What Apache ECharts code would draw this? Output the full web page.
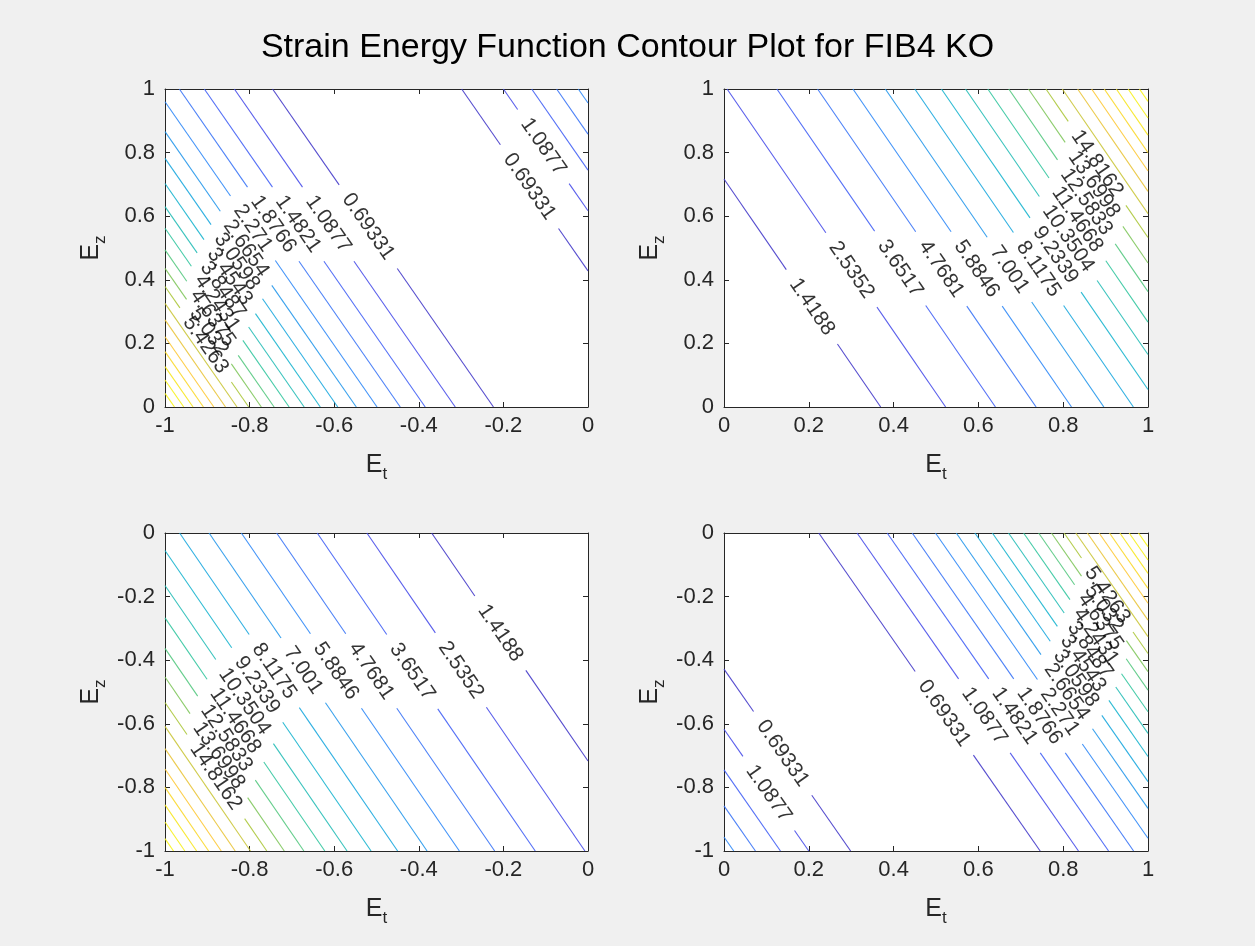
<!DOCTYPE html>
<html><head><meta charset="utf-8">
<script src="https://cdn.jsdelivr.net/npm/echarts@6/dist/echarts.min.js"></script>
<style>html,body{margin:0;padding:0;background:#f0f0f0}#c{width:1255px;height:946px}</style>
</head><body><div id="c"></div>
<script>
// ---------------- DATA ----------------
const titleText = 'Strain Energy Function Contour Plot for FIB4 KO';
const ticksNeg = ['-1', '-0.8', '-0.6', '-0.4', '-0.2', '0'];
const ticksPos = ['0', '0.2', '0.4', '0.6', '0.8', '1'];

// contour levels (plots 1 & 4)
const levelsA = [0.69331, 1.0877, 1.4821, 1.8766, 2.271, 2.6654, 3.0598, 3.4543, 3.8487, 4.2431,
                 4.6375, 5.032, 5.4263, 5.8208, 6.2152, 6.6096, 7.004, 7.3985, 7.7929, 8.1873];
const labelsA = ['0.69331', '1.0877', '1.4821', '1.8766', '2.271', '2.6654', '3.0598', '3.4543',
                 '3.8487', '4.2431', '4.6375', '5.032', '5.4263'];
const climA = [0.2989, 8.5816];
// contour levels (plots 2 & 3)
const levelsB = [1.4188, 2.5352, 3.6517, 4.7681, 5.8846, 7.001, 8.1175, 9.2339, 10.3504, 11.4668,
                 12.5833, 13.6998, 14.8162, 15.9327, 17.0491, 18.1656, 19.282, 20.3985, 21.5149, 22.6314];
const labelsB = ['1.4188', '2.5352', '3.6517', '4.7681', '5.8846', '7.001', '8.1175', '9.2339',
                 '10.3504', '11.4668', '12.5833', '13.6998', '14.8162'];
const climB = [0.3024, 23.748];

// contour lines are Ez = u - s*Et ; u = Ez-intercept
const slope1 = 1.915, slope2 = 1.94, slope3 = 1.94, slope4 = 1.915;
const u1Main = [-0.428, -0.601, -0.737, -0.850, -0.955, -1.049, -1.133, -1.212, -1.285, -1.353,
                -1.421, -1.479, -1.536, -1.589, -1.641, -1.694, -1.741, -1.788, -1.830, -1.872];
const u1Side = [0.428, 0.617, 0.745, 0.858, 0.956];
const u2Main = [0.717, 1.014, 1.242, 1.428, 1.590, 1.738, 1.873, 1.995, 2.105, 2.207,
                2.303, 2.393, 2.473, 2.548, 2.618, 2.682, 2.740, 2.795, 2.849, 2.901];
const u3Main = [-0.717, -1.014, -1.242, -1.428, -1.590, -1.738, -1.873, -1.995, -2.105, -2.207,
                -2.303, -2.393, -2.473, -2.548, -2.618, -2.682, -2.740, -2.795, -2.849, -2.901];
const u4Main = [0.428, 0.601, 0.737, 0.850, 0.955, 1.049, 1.133, 1.212, 1.285, 1.353,
                1.421, 1.479, 1.536, 1.589, 1.641, 1.694, 1.741, 1.788, 1.830, 1.872];
const u4Side = [-0.428, -0.617, -0.745, -0.858, -0.956];

// Ez position of each inline label centre
const lab1Main = [0.567, 0.575, 0.575, 0.575, 0.562, 0.499, 0.457, 0.41, 0.368, 0.326, 0.279, 0.237, 0.195];
const lab1Side = [0.693, 0.819];
const lab2Main = [0.315, 0.431, 0.436, 0.434, 0.434, 0.432, 0.434, 0.478, 0.53, 0.59, 0.645, 0.70, 0.766];
const lab3Main = [-0.315, -0.431, -0.436, -0.434, -0.434, -0.432, -0.434, -0.478, -0.53, -0.59, -0.645, -0.70, -0.766];
const lab4Main = [-0.567, -0.575, -0.575, -0.575, -0.562, -0.499, -0.457, -0.41, -0.368, -0.326, -0.279, -0.237, -0.195];
const lab4Side = [-0.693, -0.819];

// ---------------- STYLE / LAYOUT ----------------
const FONT = '"Liberation Sans", Helvetica, Arial, sans-serif';
const AX = '#262626';
const LABEL_SIZE = 21, TICK_SIZE = 22, GAP_PAD = 13;
const parulaPos = [0, 0.111, 0.238, 0.365, 0.492, 0.619, 0.746, 0.873, 1];
const parulaStops = ['#3e26a8', '#4852f4', '#2e87f7', '#12b1d6', '#37c897', '#abc739', '#fec338', '#f5eb18', '#f9fb14'];
function hex(c) { return [1, 3, 5].map(i => parseInt(c.substr(i, 2), 16)); }
function parula(t) {
  t = Math.max(0, Math.min(1, t));
  let i = 0;
  while (i < parulaPos.length - 2 && t > parulaPos[i + 1]) i++;
  const r = (t - parulaPos[i]) / (parulaPos[i + 1] - parulaPos[i]);
  const a = hex(parulaStops[i]), b = hex(parulaStops[i + 1]);
  return 'rgb(' + a.map((v, j) => Math.round(v + (b[j] - v) * r)).join(',') + ')';
}
const grids = [
  { left: 165, top: 89, width: 423, height: 318 },
  { left: 724, top: 89, width: 424, height: 318 },
  { left: 165, top: 533, width: 423, height: 318 },
  { left: 724, top: 533, width: 424, height: 318 }
];
const plots = [
  { x: [-1, 0], y: [0, 1], xt: ticksNeg, yt: ticksPos, s: slope1, levels: levelsA, labels: labelsA, clim: climA, main: u1Main, side: u1Side, labMain: lab1Main, labSide: lab1Side },
  { x: [0, 1], y: [0, 1], xt: ticksPos, yt: ticksPos, s: slope2, levels: levelsB, labels: labelsB, clim: climB, main: u2Main, side: [], labMain: lab2Main, labSide: [] },
  { x: [-1, 0], y: [-1, 0], xt: ticksNeg, yt: ticksNeg, s: slope3, levels: levelsB, labels: labelsB, clim: climB, main: u3Main, side: [], labMain: lab3Main, labSide: [] },
  { x: [0, 1], y: [-1, 0], xt: ticksPos, yt: ticksNeg, s: slope4, levels: levelsA, labels: labelsA, clim: climA, main: u4Main, side: u4Side, labMain: lab4Main, labSide: lab4Side }
];

const meas = document.createElement('canvas').getContext('2d');
function textW(t) { meas.font = LABEL_SIZE + 'px ' + FONT; return meas.measureText(t).width; }

const xAxes = [], yAxes = [], series = [];
const nameRich = {
  E: { fontSize: 25, fontFamily: FONT, color: AX, lineHeight: 36, verticalAlign: 'middle' },
  s: { fontSize: 17, fontFamily: FONT, color: AX, lineHeight: 18, verticalAlign: 'bottom' }
};
plots.forEach((P, i) => {
  const g = grids[i];
  const common = { gridIndex: i, type: 'value', interval: 0.2, splitLine: { show: false },
    axisLine: { show: true, onZero: false, lineStyle: { color: AX, width: 1 } },
    axisTick: { show: true, inside: true, length: 5, lineStyle: { color: AX } } };
  const fmt = (arr, min) => v => arr[Math.round((v - min) / 0.2)];
  xAxes.push(Object.assign({}, common, { min: P.x[0], max: P.x[1], position: 'bottom',
    axisLabel: { fontSize: TICK_SIZE, fontFamily: FONT, color: AX, margin: 8, formatter: fmt(P.xt, P.x[0]) },
    name: '{E|E}{s|t}', nameLocation: 'middle', nameGap: 40, nameTextStyle: { rich: nameRich } }));
  xAxes.push(Object.assign({}, common, { min: P.x[0], max: P.x[1], position: 'top', axisLabel: { show: false } }));
  yAxes.push(Object.assign({}, common, { min: P.y[0], max: P.y[1], position: 'left',
    axisLabel: { fontSize: TICK_SIZE, fontFamily: FONT, color: AX, margin: 10, formatter: fmt(P.yt, P.y[0]) },
    name: '{E|E}{s|z}', nameLocation: 'middle', nameGap: 56, nameRotate: 90, nameTextStyle: { rich: nameRich } }));
  yAxes.push(Object.assign({}, common, { min: P.y[0], max: P.y[1], position: 'right', axisLabel: { show: false } }));

  const pxX = g.width / (P.x[1] - P.x[0]), pxY = g.height / (P.y[1] - P.y[0]);
  const L = Math.hypot(pxX, P.s * pxY);
  const angle = Math.atan2(P.s * pxY, pxX) * 180 / Math.PI;
  const segs = [], labs = [];
  function addLine(u, k, labEz) {
    const a = Math.max(P.x[0], (u - P.y[1]) / P.s);
    const b = Math.min(P.x[1], (u - P.y[0]) / P.s);
    if (a >= b) return;
    const color = parula((P.levels[k] - P.clim[0]) / (P.clim[1] - P.clim[0]));
    let cuts = [[a, b]];
    if (labEz != null) {
      const ec = (u - labEz) / P.s;
      const half = (textW(P.labels[k]) / 2 + GAP_PAD) / L;
      cuts = [[a, Math.min(b, ec - half)], [Math.max(a, ec + half), b]];
      labs.push([ec, labEz, P.labels[k]]);
    }
    cuts.forEach(([e1, e2]) => {
      if (e2 > e1) segs.push({ coords: [[e1, u - P.s * e1], [e2, u - P.s * e2]], lineStyle: { color } });
    });
  }
  P.main.forEach((u, k) => addLine(u, k, P.labMain[k]));
  P.side.forEach((u, k) => addLine(u, k, P.labSide[k]));
  series.push({ type: 'lines', coordinateSystem: 'cartesian2d', xAxisIndex: 2 * i, yAxisIndex: 2 * i,
    polyline: false, silent: true, animation: false, lineStyle: { width: 1.1, opacity: 0.9 }, data: segs, z: 2 });
  series.push({ type: 'scatter', xAxisIndex: 2 * i, yAxisIndex: 2 * i, symbolSize: 0, silent: true, animation: false, z: 3,
    data: labs,
    label: { show: true, position: 'inside', rotate: -angle, formatter: p => p.value[2],
      fontSize: LABEL_SIZE, fontFamily: FONT, color: '#000' } });
});

const chart = echarts.init(document.getElementById('c'));
chart.setOption({
  backgroundColor: '#f0f0f0',
  animation: false,
  title: { text: titleText, left: 'center', top: 26,
    textStyle: { fontSize: 34, fontWeight: 'normal', color: '#000', fontFamily: FONT } },
  grid: grids.map(g => Object.assign({ show: true, backgroundColor: '#ffffff', borderWidth: 0 }, g)),
  xAxis: xAxes,
  yAxis: yAxes,
  series: series
});
</script>
</body></html>
